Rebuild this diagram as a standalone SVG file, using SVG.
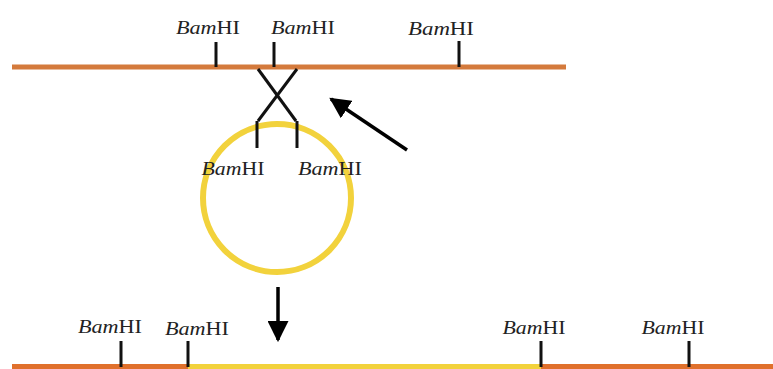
<svg xmlns="http://www.w3.org/2000/svg" width="773" height="369" viewBox="0 0 773 369">
<defs>
<style>
.dna{stroke:#d47a3c;stroke-width:5;fill:none}
.dna2{stroke:#e0702c;stroke-width:6;fill:none}
.ins{stroke:#f2d23c;stroke-width:6;fill:none}
.tick{stroke:#111;stroke-width:3}
.xl{stroke:#111;stroke-width:3;fill:none}
.lbl{font-family:"Liberation Serif","Times New Roman",serif;font-size:19px;fill:#222}
.it{font-style:italic}
.arr{stroke:#000;stroke-width:3.5;fill:none}
</style>
<marker id="ah" viewBox="0 0 10 10" refX="9" refY="5" markerWidth="6" markerHeight="6" markerUnits="strokeWidth" orient="auto">
<path d="M0,0 L10,5 L0,10 z" fill="#000"/>
</marker>
</defs>
<rect width="773" height="369" fill="#fff"/>

<g id="chromosome-top">
<line class="dna" x1="12" y1="67" x2="566" y2="67"/>
<line class="tick" x1="216" y1="42" x2="216" y2="67"/>
<line class="tick" x1="274" y1="42" x2="274" y2="67"/>
<line class="tick" x1="459" y1="41" x2="459" y2="67"/>
<text class="lbl" x="208" y="34" text-anchor="middle" textLength="64" lengthAdjust="spacingAndGlyphs"><tspan class="it">Bam</tspan>HI</text>
<text class="lbl" x="303" y="34" text-anchor="middle" textLength="64" lengthAdjust="spacingAndGlyphs"><tspan class="it">Bam</tspan>HI</text>
<text class="lbl" x="441" y="35" text-anchor="middle" textLength="66" lengthAdjust="spacingAndGlyphs"><tspan class="it">Bam</tspan>HI</text>
</g>

<g id="plasmid">
<circle class="ins" cx="277" cy="198" r="74" stroke-width="5"/>
<line class="tick" x1="257" y1="121" x2="257" y2="148"/>
<line class="tick" x1="297" y1="121" x2="297" y2="148"/>
<text class="lbl" x="233" y="175" text-anchor="middle" textLength="63" lengthAdjust="spacingAndGlyphs"><tspan class="it">Bam</tspan>HI</text>
<text class="lbl" x="330" y="175" text-anchor="middle" textLength="64" lengthAdjust="spacingAndGlyphs"><tspan class="it">Bam</tspan>HI</text>
</g>

<g id="crossover">
<line class="xl" x1="258" y1="69" x2="296" y2="121"/>
<line class="xl" x1="297" y1="69" x2="258" y2="121"/>
</g>

<g id="chromosome-bottom">
<line class="dna2" x1="12" y1="367" x2="188" y2="367"/>
<line class="ins" x1="188" y1="367" x2="541" y2="367"/>
<line class="dna2" x1="541" y1="367" x2="773" y2="367"/>
<line class="tick" x1="121" y1="341" x2="121" y2="367"/>
<line class="tick" x1="188" y1="341" x2="188" y2="367"/>
<line class="tick" x1="541" y1="341" x2="541" y2="367"/>
<line class="tick" x1="689" y1="341" x2="689" y2="367"/>
<text class="lbl" x="110" y="333" text-anchor="middle" textLength="64" lengthAdjust="spacingAndGlyphs"><tspan class="it">Bam</tspan>HI</text>
<text class="lbl" x="197" y="335" text-anchor="middle" textLength="64" lengthAdjust="spacingAndGlyphs"><tspan class="it">Bam</tspan>HI</text>
<text class="lbl" x="534" y="334" text-anchor="middle" textLength="63" lengthAdjust="spacingAndGlyphs"><tspan class="it">Bam</tspan>HI</text>
<text class="lbl" x="673" y="334" text-anchor="middle" textLength="63" lengthAdjust="spacingAndGlyphs"><tspan class="it">Bam</tspan>HI</text>
</g>

<g id="connectors">
<line class="arr" x1="407" y1="150" x2="331" y2="99" marker-end="url(#ah)"/>
<line class="arr" x1="278" y1="287" x2="278" y2="340" marker-end="url(#ah)"/>
</g>
</svg>
